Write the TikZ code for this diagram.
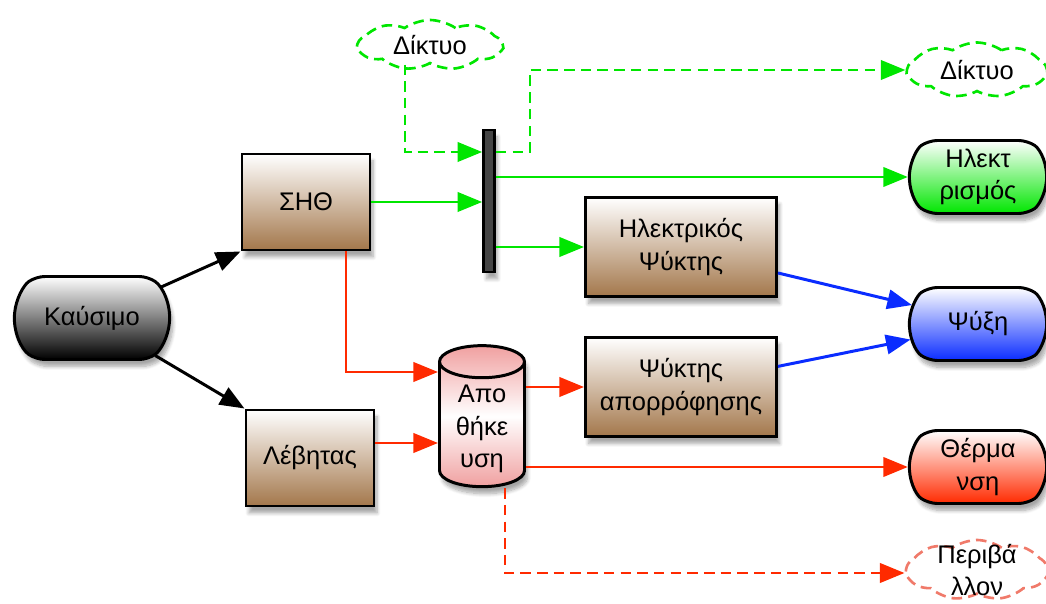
\documentclass[tikz,border=0pt]{standalone}
\usepackage{fontspec}
\setmainfont{Liberation Sans}
\usepackage{tikz}
\usetikzlibrary{
  arrows.meta, positioning, calc, shapes.geometric, shapes.symbols, shapes.misc,
  shadows.blur
}
\usepackage{xcolor}
\definecolor{unitbrown}{HTML}{A3774B}
\definecolor{flowgreen}{HTML}{00E600}
\definecolor{flowred}{HTML}{FF2A00}
\definecolor{flowblue}{HTML}{0A2CFF}
\definecolor{envred}{HTML}{F07A6A}
\definecolor{storepink}{HTML}{F0A0A0}
\definecolor{bargray}{HTML}{454545}

\begin{document}
\begin{tikzpicture}[
  font=\fontsize{14.5}{18.5}\selectfont,
  flow/.style={line width=1.7pt, -{Triangle[length=14pt, width=11pt]}},
  soft/.style={blur shadow={shadow blur steps=8, shadow xshift=0.06cm,
    shadow yshift=-0.14cm, shadow opacity=35}},
  unit/.style={draw, line width=1.7pt, soft, minimum width=2.56cm,
    minimum height=1.92cm, top color=white, bottom color=unitbrown, align=center},
  chiller/.style={unit, minimum width=3.82cm, minimum height=1.98cm},
  pill/.style={rounded rectangle, rounded rectangle arc length=110, draw,
    rounded corners=5pt, line width=1.7pt, soft, minimum width=2.98cm,
    minimum height=1.46cm, top color=white, align=center},
  puff/.style={cloud, cloud puffs=9, cloud puff arc=70, cloud ignores aspect,
    line width=1.5pt, dash pattern=on 6pt off 3.5pt, align=center, inner sep=0pt},
  store/.style={cylinder, shape border rotate=90, aspect=0.5, draw, line width=1.7pt,
    soft, minimum width=1.7cm, minimum height=2.8cm, align=center,
    top color=storepink, bottom color=storepink, middle color=white},
  >=Stealth
]
  \useasboundingbox (0,0) rectangle (20.92,12.06);

  % Sources and conversion units
  \node[pill, minimum width=3.34cm, minimum height=1.66cm,
    bottom color=black] (fuel) at (1.84, 5.70) {Καύσιμο};
  \node[unit] (chp) at (6.12, 8.02) {ΣΗΘ};
  \node[unit] (boiler) at (6.20, 2.90) {Λέβητας};
  \node[draw, line width=1.5pt, fill=bargray, minimum width=0.22cm,
    minimum height=2.84cm, inner sep=0pt, soft] (bus) at (9.78, 8.04) {};
  \node[chiller] (elchill) at (13.62, 7.12) {Ηλεκτρικός\\Ψύκτης};
  \node[chiller] (abschill) at (13.62, 4.32) {Ψύκτης\\απορρόφησης};
  \node[store] (tank) at (9.64, 3.48) {Απο\\θήκε\\υση};

  % Grid and environment
  \node[puff, draw=flowgreen, minimum width=2.88cm, minimum height=1.0cm] (gridin)
    at (8.60, 11.16) {Δίκτυο};
  \node[puff, draw=flowgreen, minimum width=2.78cm, minimum height=1.1cm] (gridout)
    at (19.54, 10.66) {Δίκτυο};
  \node[puff, draw=envred, minimum width=2.82cm, minimum height=1.2cm,
    inner ysep=-9pt] (env) at (19.54, 0.66) {Περιβά\\λλον};

  % Final uses
  \node[pill, bottom color=flowgreen] (elec) at (19.56, 8.52) {Ηλεκτ\\ρισμός};
  \node[pill, bottom color=flowblue] (cool) at (19.56, 5.58) {Ψύξη};
  \node[pill, bottom color=flowred] (heat) at (19.56, 2.72) {Θέρμα\\νση};

  % Fuel
  \draw[flow] (fuel) -- (chp.south west);
  \draw[flow] (fuel) -- (boiler.north west);

  % Electricity
  \coordinate (gin) at (8.10, 9.02);
  \coordinate (gout) at (10.60, 9.02);
  \draw[flow, flowgreen] (chp.east) -- (chp.east -| bus.west);
  \draw[flow, flowgreen] (elec.west -| bus.east) -- (elec.west);
  \draw[flow, flowgreen] (elchill.west -| bus.east) -- (elchill.west);
  \draw[flow, flowgreen, dash pattern=on 6pt off 3.5pt]
    (gridin.south -| gin) -- (gin) -- (gin -| bus.west);
  \draw[flow, flowgreen, dash pattern=on 6pt off 3.5pt]
    (gout -| bus.east) -- (gout) |- (gridout.west);

  % Heat
  \coordinate (tap) at (6.92, 4.62);
  \coordinate (bin) at (7.46, 3.20);
  \coordinate (vent) at (10.10, 0.60);
  \draw[flow, flowred] (tap |- chp.south) -- (tap) -- (tap -| tank.west);
  \draw[flow, flowred] (bin -| boiler.east) -- (bin -| tank.west);
  \draw[flow, flowred] (abschill.west -| tank.east) -- (abschill.west);
  \draw[flow, flowred] (heat.west -| tank.east) -- (heat.west);
  \draw[flow, flowred, dash pattern=on 6pt off 3.5pt]
    (vent |- tank.south) -- (vent) -- (vent -| env.west);

  % Cooling
  \draw[flow, flowblue] (elchill.-15) -- (cool.164);
  \draw[flow, flowblue] (abschill.12) -- (cool.193);
\end{tikzpicture}
\end{document}
